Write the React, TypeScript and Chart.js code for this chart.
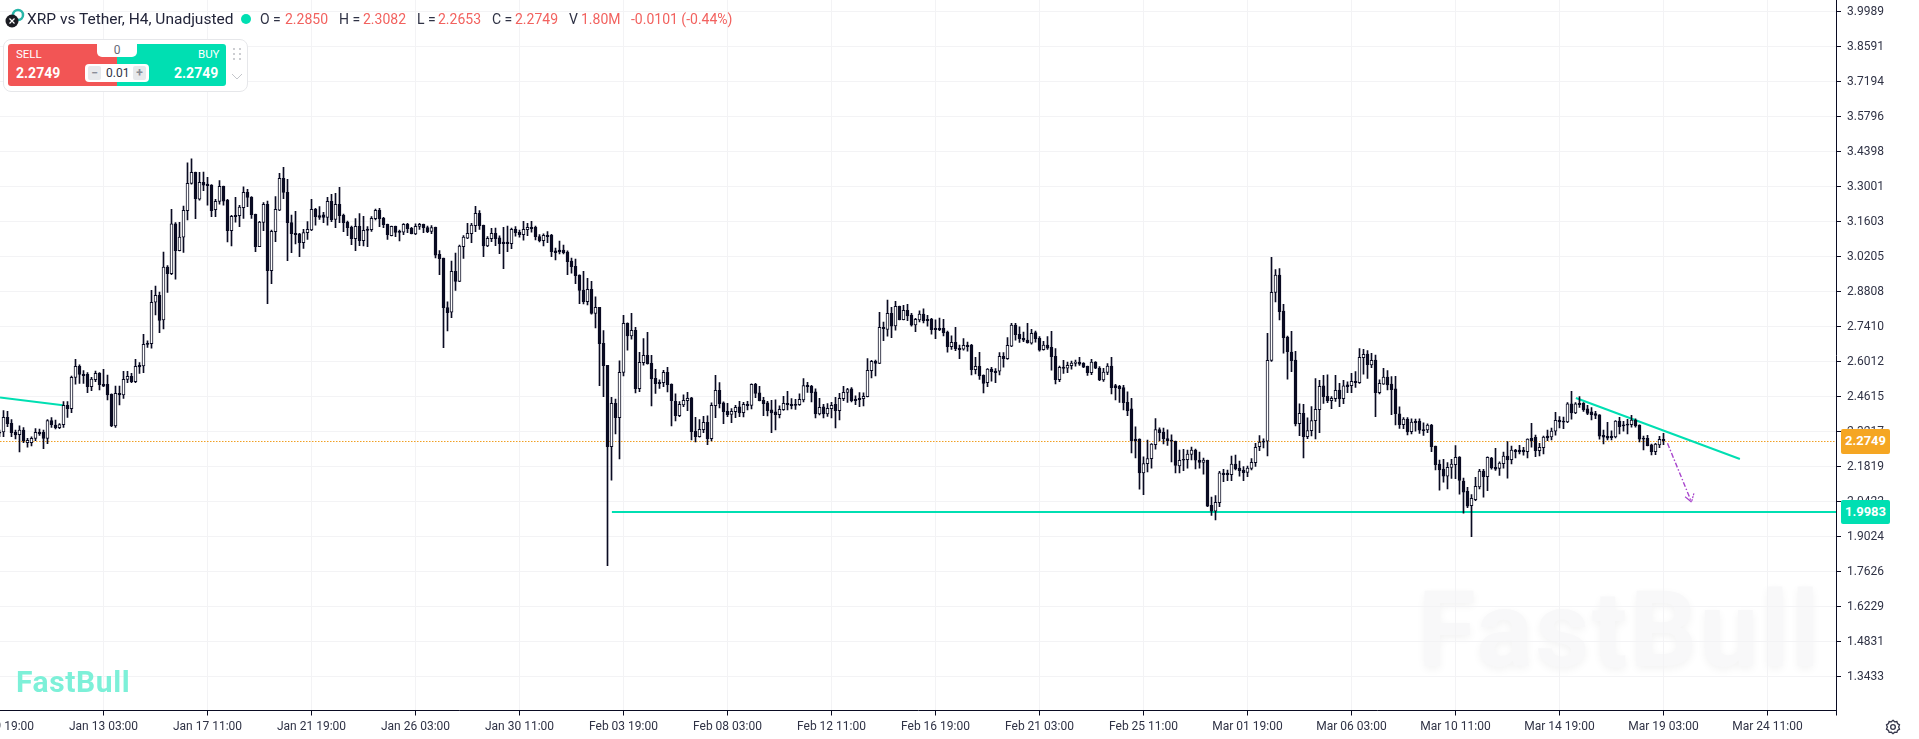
import React, { useEffect, useRef } from 'react';
import { Chart, registerables } from 'chart.js';
Chart.register(...registerables);

// XRP/USDT H4 candles
const opens = [
  2.319,2.319,2.377,2.354,2.318,2.308,2.327,2.276,2.276,2.293,
  2.318,2.318,2.293,2.365,2.347,2.336,2.348,2.425,2.412,2.537,
  2.581,2.549,2.549,2.500,2.528,2.553,2.509,2.509,2.469,2.343,
  2.473,2.467,2.529,2.541,2.520,2.585,2.583,2.673,2.672,2.837,
  2.865,2.766,2.977,2.951,3.150,3.043,3.097,3.203,3.312,3.356,
  3.249,3.316,3.309,3.305,3.207,3.240,3.300,3.245,3.123,3.184,
  3.183,3.215,3.276,3.256,3.188,3.059,3.156,3.228,2.963,3.119,
  3.205,3.332,3.276,3.155,3.112,3.110,3.075,3.115,3.126,3.208,
  3.183,3.186,3.176,3.240,3.168,3.228,3.184,3.156,3.136,3.091,
  3.140,3.083,3.129,3.127,3.171,3.204,3.172,3.148,3.103,3.140,
  3.120,3.117,3.148,3.132,3.110,3.140,3.148,3.135,3.120,3.136,
  3.028,3.013,2.816,2.797,2.961,2.920,3.059,3.093,3.111,3.143,
  3.192,3.144,3.062,3.091,3.112,3.094,3.077,3.077,3.071,3.128,
  3.116,3.107,3.127,3.136,3.136,3.099,3.083,3.104,3.105,3.042,
  3.045,3.045,3.037,3.001,2.980,2.946,2.886,2.839,2.889,2.792,
  2.817,2.673,2.585,2.260,2.433,2.376,2.557,2.753,2.703,2.725,
  2.492,2.596,2.625,2.593,2.533,2.517,2.516,2.557,2.509,2.441,
  2.384,2.427,2.444,2.455,2.322,2.300,2.328,2.358,2.292,2.424,
  2.485,2.435,2.401,2.389,2.400,2.419,2.396,2.429,2.425,2.509,
  2.475,2.445,2.435,2.407,2.399,2.388,2.408,2.433,2.429,2.429,
  2.428,2.447,2.505,2.501,2.479,2.391,2.419,2.391,2.412,2.429,
  2.404,2.452,2.477,2.491,2.449,2.453,2.452,2.460,2.564,2.601,
  2.593,2.737,2.729,2.793,2.743,2.821,2.767,2.805,2.786,2.747,
  2.766,2.790,2.769,2.770,2.733,2.733,2.733,2.718,2.660,2.677,
  2.653,2.650,2.665,2.666,2.568,2.581,2.545,2.516,2.570,2.562,
  2.562,2.621,2.612,2.662,2.746,2.709,2.693,2.686,2.674,2.716,
  2.693,2.648,2.666,2.657,2.621,2.528,2.578,2.574,2.584,2.593,
  2.598,2.593,2.581,2.556,2.598,2.574,2.527,2.557,2.582,2.504,
  2.501,2.496,2.437,2.411,2.291,2.291,2.156,2.192,2.212,2.268,
  2.329,2.319,2.293,2.287,2.282,2.183,2.210,2.208,2.229,2.247,
  2.206,2.197,2.206,2.026,2.003,2.037,2.155,2.155,2.149,2.191,
  2.175,2.167,2.158,2.173,2.196,2.260,2.283,2.282,2.605,2.876,
  2.946,2.802,2.698,2.638,2.606,2.352,2.393,2.300,2.324,2.364,
  2.408,2.503,2.461,2.444,2.452,2.486,2.452,2.507,2.504,2.521,
  2.516,2.616,2.630,2.587,2.606,2.476,2.510,2.538,2.510,2.491,
  2.391,2.348,2.371,2.320,2.362,2.363,2.329,2.327,2.347,2.263,
  2.191,2.171,2.143,2.177,2.188,2.219,2.123,2.082,2.025,2.049,
  2.100,2.163,2.141,2.215,2.178,2.173,2.192,2.223,2.208,2.247,
  2.247,2.247,2.240,2.294,2.298,2.244,2.256,2.303,2.299,2.322,
  2.367,2.363,2.359,2.431,2.395,2.433,2.433,2.411,2.399,2.392,
  2.387,2.306,2.302,2.302,2.299,2.363,2.348,2.351,2.348,2.367,
  2.347,2.295,2.294,2.268,2.240,2.267,2.290,
];
const highs = [
  2.327,2.404,2.401,2.369,2.327,2.344,2.337,2.294,2.300,2.333,
  2.331,2.327,2.369,2.376,2.367,2.353,2.440,2.440,2.542,2.609,
  2.587,2.564,2.556,2.537,2.562,2.556,2.569,2.546,2.471,2.502,
  2.502,2.561,2.561,2.553,2.609,2.596,2.709,2.683,2.885,2.902,
  2.878,3.037,2.983,3.208,3.155,3.156,3.221,3.394,3.410,3.357,
  3.356,3.357,3.336,3.307,3.248,3.323,3.301,3.248,3.184,3.256,
  3.224,3.298,3.288,3.259,3.189,3.160,3.235,3.241,3.125,3.259,
  3.352,3.376,3.328,3.185,3.200,3.112,3.128,3.159,3.248,3.212,
  3.219,3.196,3.256,3.268,3.272,3.296,3.189,3.161,3.141,3.171,
  3.191,3.180,3.139,3.179,3.209,3.212,3.176,3.149,3.141,3.141,
  3.125,3.151,3.152,3.136,3.150,3.152,3.149,3.141,3.143,3.137,
  3.043,3.013,2.839,3.001,3.033,3.065,3.103,3.152,3.152,3.220,
  3.203,3.145,3.099,3.132,3.133,3.102,3.136,3.141,3.133,3.139,
  3.125,3.160,3.152,3.160,3.141,3.107,3.110,3.119,3.108,3.053,
  3.081,3.065,3.042,3.013,3.009,2.947,2.961,2.933,2.921,2.859,
  2.817,2.724,2.585,2.457,2.450,2.603,2.785,2.755,2.793,2.737,
  2.637,2.692,2.717,2.625,2.569,2.527,2.565,2.577,2.511,2.471,
  2.440,2.467,2.477,2.457,2.377,2.369,2.381,2.383,2.435,2.545,
  2.516,2.439,2.433,2.412,2.425,2.441,2.437,2.441,2.511,2.513,
  2.501,2.457,2.441,2.445,2.447,2.423,2.461,2.481,2.452,2.449,
  2.471,2.532,2.517,2.505,2.491,2.453,2.429,2.432,2.437,2.457,
  2.473,2.501,2.493,2.496,2.463,2.476,2.475,2.612,2.605,2.606,
  2.797,2.758,2.846,2.817,2.841,2.822,2.825,2.829,2.793,2.773,
  2.803,2.811,2.785,2.773,2.767,2.774,2.769,2.722,2.703,2.737,
  2.666,2.692,2.678,2.669,2.617,2.637,2.547,2.572,2.577,2.572,
  2.636,2.636,2.696,2.753,2.753,2.739,2.718,2.753,2.729,2.722,
  2.700,2.681,2.700,2.721,2.652,2.582,2.605,2.598,2.602,2.606,
  2.617,2.596,2.582,2.609,2.600,2.580,2.573,2.592,2.617,2.509,
  2.505,2.505,2.479,2.453,2.340,2.292,2.220,2.287,2.273,2.373,
  2.336,2.335,2.328,2.308,2.283,2.247,2.250,2.247,2.259,2.251,
  2.239,2.215,2.207,2.059,2.065,2.162,2.170,2.167,2.223,2.227,
  2.203,2.181,2.183,2.213,2.274,2.305,2.292,2.713,3.016,2.968,
  2.972,2.829,2.702,2.721,2.641,2.431,2.429,2.375,2.420,2.532,
  2.525,2.545,2.547,2.460,2.545,2.513,2.525,2.519,2.553,2.560,
  2.652,2.649,2.644,2.633,2.626,2.527,2.573,2.564,2.540,2.541,
  2.419,2.376,2.376,2.372,2.371,2.372,2.356,2.352,2.350,2.263,
  2.207,2.210,2.197,2.210,2.265,2.221,2.135,2.098,2.069,2.138,
  2.170,2.170,2.220,2.218,2.254,2.200,2.239,2.281,2.263,2.250,
  2.266,2.258,2.292,2.354,2.307,2.274,2.303,2.327,2.335,2.397,
  2.380,2.378,2.436,2.481,2.436,2.460,2.436,2.425,2.416,2.401,
  2.388,2.327,2.358,2.324,2.365,2.377,2.362,2.370,2.385,2.372,
  2.348,2.303,2.306,2.271,2.274,2.302,2.314,
];
const lows = [
  2.300,2.300,2.340,2.300,2.291,2.239,2.276,2.258,2.263,2.284,
  2.305,2.252,2.272,2.337,2.331,2.332,2.337,2.377,2.396,2.510,
  2.513,2.513,2.476,2.484,2.520,2.487,2.500,2.447,2.340,2.337,
  2.427,2.453,2.516,2.516,2.516,2.553,2.556,2.657,2.654,2.786,
  2.716,2.731,2.876,2.947,2.929,3.042,3.036,3.166,3.309,3.171,
  3.245,3.283,3.225,3.179,3.179,3.229,3.225,3.078,3.062,3.157,
  3.139,3.172,3.219,3.172,3.039,3.059,3.123,2.831,2.911,3.079,
  3.203,3.251,3.003,3.035,3.070,3.019,3.052,3.088,3.123,3.145,
  3.168,3.155,3.145,3.159,3.135,3.155,3.119,3.103,3.067,3.043,
  3.063,3.062,3.059,3.120,3.166,3.139,3.135,3.088,3.102,3.099,
  3.082,3.107,3.115,3.110,3.107,3.128,3.115,3.115,3.111,3.014,
  2.947,2.656,2.723,2.775,2.884,2.919,3.012,3.091,3.075,3.119,
  3.128,3.019,3.059,3.079,3.063,3.031,2.971,3.039,3.051,3.101,
  3.097,3.085,3.103,3.117,3.086,3.078,3.062,3.075,3.019,3.006,
  3.030,3.030,2.947,2.953,2.911,2.831,2.830,2.826,2.789,2.735,
  2.504,2.460,1.785,2.127,2.311,2.211,2.543,2.646,2.690,2.475,
  2.480,2.586,2.590,2.423,2.473,2.493,2.500,2.479,2.343,2.363,
  2.380,2.420,2.404,2.287,2.279,2.298,2.316,2.268,2.283,2.376,
  2.415,2.352,2.380,2.356,2.376,2.380,2.379,2.407,2.411,2.456,
  2.443,2.384,2.383,2.316,2.327,2.375,2.405,2.407,2.411,2.409,
  2.425,2.439,2.477,2.439,2.375,2.387,2.375,2.381,2.375,2.335,
  2.367,2.444,2.437,2.439,2.428,2.420,2.423,2.459,2.535,2.543,
  2.592,2.684,2.702,2.696,2.726,2.766,2.766,2.763,2.742,2.720,
  2.758,2.755,2.742,2.710,2.692,2.724,2.703,2.638,2.649,2.644,
  2.612,2.646,2.642,2.547,2.551,2.529,2.475,2.500,2.522,2.516,
  2.547,2.578,2.609,2.660,2.686,2.677,2.680,2.674,2.670,2.678,
  2.642,2.646,2.649,2.566,2.511,2.520,2.553,2.556,2.570,2.582,
  2.585,2.576,2.545,2.548,2.572,2.524,2.521,2.548,2.471,2.447,
  2.437,2.407,2.384,2.235,2.215,2.091,2.069,2.159,2.174,2.250,
  2.283,2.271,2.265,2.199,2.156,2.156,2.164,2.174,2.207,2.171,
  2.174,2.151,2.021,1.986,1.968,2.021,2.121,2.125,2.125,2.167,
  2.143,2.125,2.141,2.167,2.181,2.244,2.255,2.223,2.601,2.838,
  2.766,2.634,2.530,2.560,2.343,2.304,2.215,2.292,2.303,2.291,
  2.316,2.433,2.436,2.412,2.441,2.420,2.432,2.476,2.476,2.497,
  2.513,2.550,2.533,2.576,2.380,2.471,2.509,2.487,2.388,2.347,
  2.333,2.332,2.307,2.311,2.322,2.313,2.305,2.316,2.240,2.167,
  2.087,2.119,2.092,2.134,2.133,2.071,1.995,2.017,1.901,2.045,
  2.092,2.059,2.085,2.170,2.165,2.146,2.174,2.135,2.191,2.215,
  2.231,2.226,2.215,2.258,2.220,2.223,2.231,2.284,2.287,2.306,
  2.335,2.332,2.356,2.370,2.392,2.417,2.401,2.388,2.367,2.372,
  2.290,2.271,2.287,2.287,2.295,2.311,2.322,2.311,2.338,2.338,
  2.279,2.247,2.263,2.227,2.228,2.256,2.268,
];
const closes = [
  2.314,2.377,2.352,2.316,2.307,2.327,2.283,2.286,2.294,2.318,
  2.311,2.293,2.365,2.348,2.336,2.349,2.425,2.412,2.537,2.581,
  2.549,2.544,2.500,2.530,2.553,2.508,2.502,2.467,2.343,2.473,
  2.467,2.529,2.541,2.520,2.581,2.579,2.669,2.669,2.837,2.865,
  2.764,2.977,2.951,3.150,3.043,3.097,3.204,3.312,3.356,3.251,
  3.316,3.305,3.303,3.203,3.240,3.300,3.241,3.123,3.180,3.179,
  3.217,3.276,3.256,3.187,3.059,3.157,3.228,2.963,3.120,3.208,
  3.332,3.276,3.155,3.111,3.107,3.075,3.115,3.128,3.208,3.179,
  3.176,3.176,3.240,3.167,3.228,3.183,3.155,3.135,3.091,3.140,
  3.083,3.124,3.124,3.172,3.204,3.171,3.147,3.107,3.140,3.116,
  3.116,3.148,3.131,3.111,3.140,3.148,3.135,3.119,3.135,3.025,
  3.011,2.815,2.795,2.961,2.920,3.061,3.097,3.112,3.145,3.192,
  3.143,3.062,3.092,3.112,3.091,3.071,3.071,3.071,3.128,3.115,
  3.107,3.128,3.136,3.131,3.099,3.083,3.104,3.099,3.039,3.035,
  3.038,3.035,2.999,2.979,2.943,2.884,2.839,2.889,2.792,2.817,
  2.672,2.584,2.260,2.433,2.376,2.557,2.753,2.703,2.725,2.492,
  2.597,2.625,2.592,2.531,2.512,2.512,2.557,2.508,2.444,2.384,
  2.429,2.445,2.453,2.320,2.300,2.330,2.358,2.292,2.425,2.485,
  2.432,2.400,2.388,2.401,2.417,2.395,2.429,2.424,2.509,2.473,
  2.444,2.432,2.404,2.395,2.388,2.409,2.433,2.428,2.424,2.425,
  2.449,2.504,2.500,2.476,2.391,2.417,2.391,2.413,2.425,2.404,
  2.453,2.477,2.488,2.444,2.444,2.448,2.461,2.565,2.601,2.593,
  2.737,2.732,2.793,2.742,2.821,2.767,2.805,2.782,2.746,2.769,
  2.790,2.763,2.763,2.728,2.728,2.728,2.716,2.660,2.677,2.652,
  2.648,2.665,2.660,2.568,2.581,2.543,2.513,2.570,2.560,2.556,
  2.621,2.612,2.665,2.746,2.708,2.692,2.686,2.676,2.713,2.692,
  2.646,2.666,2.654,2.620,2.528,2.577,2.573,2.585,2.594,2.598,
  2.590,2.578,2.556,2.598,2.574,2.527,2.558,2.582,2.496,2.496,
  2.492,2.436,2.404,2.283,2.283,2.156,2.193,2.213,2.271,2.329,
  2.316,2.292,2.284,2.282,2.185,2.206,2.206,2.231,2.247,2.206,
  2.197,2.207,2.023,2.003,2.038,2.156,2.149,2.149,2.191,2.171,
  2.164,2.157,2.175,2.198,2.258,2.279,2.278,2.605,2.877,2.946,
  2.799,2.696,2.640,2.604,2.351,2.393,2.300,2.325,2.365,2.409,
  2.501,2.460,2.444,2.453,2.485,2.452,2.503,2.500,2.521,2.516,
  2.617,2.629,2.588,2.605,2.476,2.513,2.538,2.507,2.488,2.392,
  2.348,2.371,2.319,2.359,2.356,2.326,2.324,2.347,2.260,2.188,
  2.167,2.143,2.178,2.191,2.218,2.126,2.079,2.023,2.054,2.102,
  2.163,2.141,2.218,2.175,2.170,2.195,2.223,2.207,2.247,2.240,
  2.239,2.239,2.291,2.284,2.244,2.258,2.299,2.295,2.323,2.366,
  2.359,2.358,2.431,2.395,2.431,2.428,2.407,2.393,2.388,2.385,
  2.302,2.298,2.294,2.296,2.363,2.340,2.343,2.346,2.367,2.343,
  2.290,2.290,2.264,2.240,2.271,2.290,2.283,
];

// one label every 26 bars, the first is bar 0
const timeLabels = [
  'Jan 09 19:00', 'Jan 13 03:00', 'Jan 17 11:00', 'Jan 21 19:00', 'Jan 26 03:00', 'Jan 30 11:00',
  'Feb 03 19:00', 'Feb 08 03:00', 'Feb 12 11:00', 'Feb 16 19:00', 'Feb 21 03:00', 'Feb 25 11:00',
  'Mar 01 19:00', 'Mar 06 03:00', 'Mar 10 11:00', 'Mar 14 19:00', 'Mar 19 03:00', 'Mar 24 11:00',
];
const priceTicks = [
  3.9989, 3.8591, 3.7194, 3.5796, 3.4398, 3.3001, 3.1603, 3.0205, 2.8808, 2.741,
  2.6012, 2.4615, 2.3217, 2.1819, 2.0422, 1.9024, 1.7626, 1.6229, 1.4831, 1.3433,
];

// drawn lines, [bar, price]
const leftTrend = [[0.125, 2.457], [15.875, 2.4255]];
const supportLevel = 1.9994;
const supportFrom = 153.1;
const downTrend = [[394.1, 2.4546], [435.1, 2.211]];
const forecast = [[417.0, 2.2737], [423.0, 2.0393]];
const forecastHeadLeft = [[421.4, 2.0605], [423.0, 2.0393]];
const forecastHeadRight = [[423.6, 2.0741], [423.0, 2.0393]];
const lastPriceLevel = 2.28096;

const X_MIN = 0.125;
const X_MAX = 459.125;
const Y_MIN = 1.20677;
const Y_MAX = 4.04403;

const INK = '#0a0b22';
const TEAL = '#00dfb2';
const RED = '#f25555';
const PURPLE = '#a845cc';
const AXIS_FONT = 'Roboto';

const toPoints = (pts: number[][]) => pts.map(([x, y]) => ({ x, y }));

const lineSet = (data: { x: number; y: number }[], color: string, width: number, dash: number[] = []) => ({
  type: 'line' as const,
  data,
  borderColor: color,
  borderWidth: width,
  borderDash: dash,
  pointRadius: 0,
  tension: 0,
  order: 5,
});

const CandleChart: React.FC = () => {
  const canvasRef = useRef<HTMLCanvasElement>(null);
  const chartRef = useRef<Chart | null>(null);

  useEffect(() => {
    if (!canvasRef.current) return;
    const ctx = canvasRef.current.getContext('2d');
    if (!ctx) return;
    chartRef.current = new Chart(ctx, {
      type: 'bar',
      data: {
        datasets: [
          {
            data: opens.map((_, i) => ({ x: i, y: [lows[i], highs[i]] })),
            backgroundColor: INK,
            barThickness: 1,
            grouped: false,
            order: 2,
          },
          {
            data: opens.map((o, i) => ({ x: i, y: [o, closes[i]] })),
            backgroundColor: opens.map((o, i) => (closes[i] > o ? '#ffffff' : INK)),
            borderColor: INK,
            borderWidth: 1,
            borderSkipped: false,
            barThickness: 3,
            grouped: false,
            order: 1,
          },
          lineSet(toPoints(leftTrend), TEAL, 2),
          lineSet(toPoints(downTrend), TEAL, 2),
          lineSet(toPoints([[supportFrom, supportLevel], [X_MAX, supportLevel]]), TEAL, 2),
          lineSet(toPoints([[X_MIN, lastPriceLevel], [X_MAX, lastPriceLevel]]), '#f0a024', 1, [1.5, 1.5]),
          lineSet(toPoints(forecast), PURPLE, 1.4, [5, 2, 1.5, 2]),
          lineSet(toPoints(forecastHeadLeft), PURPLE, 1.2),
          lineSet(toPoints(forecastHeadRight), PURPLE, 1.2, [2, 1]),
        ] as any,
      },
      options: {
        responsive: false,
        animation: false,
        devicePixelRatio: 1,
        events: [],
        layout: { padding: 0 },
        plugins: { legend: { display: false }, tooltip: { enabled: false } },
        scales: {
          x: {
            type: 'linear',
            position: 'bottom',
            min: X_MIN,
            max: X_MAX,
            offset: false,
            afterBuildTicks: (scale: any) => {
              scale.ticks = [...timeLabels.map((_, i) => ({ value: i * 26 })), { value: X_MAX }];
            },
            afterFit: (scale: any) => {
              scale.height = 28.5;
              scale.paddingLeft = 0;
              scale.paddingRight = 0;
            },
            ticks: {
              autoSkip: false,
              maxRotation: 0,
              padding: 4,
              color: '#2f3245',
              font: { family: AXIS_FONT, size: 12 },
              callback: (v: any) => timeLabels[v / 26] ?? '',
            },
            grid: { color: '#f3f3f5', offset: false, tickColor: INK, tickLength: 5 },
            border: { color: INK, width: 1 },
          },
          y: {
            type: 'linear',
            position: 'right',
            min: Y_MIN,
            max: Y_MAX,
            afterBuildTicks: (scale: any) => {
              scale.ticks = priceTicks.map((value) => ({ value }));
            },
            afterFit: (scale: any) => {
              scale.width = 83;
              scale.paddingTop = 0;
              scale.paddingBottom = 0;
            },
            ticks: {
              autoSkip: false,
              padding: 6,
              labelOffset: 1,
              color: '#2f3245',
              font: { family: AXIS_FONT, size: 12 },
              callback: (v: any) => Number(v).toFixed(4),
            },
            grid: { color: '#f3f3f5', tickColor: INK, tickLength: 5 },
            border: { color: INK, width: 1 },
          },
        },
      } as any,
    });
    return () => {
      chartRef.current?.destroy();
    };
  }, []);

  return <canvas ref={canvasRef} width={1919} height={739} style={{ position: 'absolute', left: 0, top: 0, display: 'block' }} />;
};

const abs = (left: number, top: number, extra: React.CSSProperties = {}): React.CSSProperties => ({
  position: 'absolute',
  left,
  top,
  whiteSpace: 'nowrap',
  ...extra,
});

const headerFont = { fontFamily: 'Roboto', fontSize: 14, lineHeight: '18px', color: '#2f3245' };

const Quote: React.FC<{ x: number; name: string; value: string; valueX: number }> = ({ x, name, value, valueX }) => (
  <>
    <span style={abs(x, 10, headerFont)}>{name}</span>
    <span style={abs(valueX, 10, { ...headerFont, color: '#f2625f' })}>{value}</span>
  </>
);

const App: React.FC = () => (
  <div style={{ position: 'fixed', left: 0, top: 0, width: 1919, height: 739, overflow: 'hidden', background: '#fff' }}>
    {/* big watermark sits under the grid */}
    <div style={abs(1418, 568, { fontFamily: 'Roboto', fontWeight: 700, fontSize: 105, lineHeight: '125px', letterSpacing: 2.6, color: '#f8f8f9', textShadow: '0 3px 8px rgba(0,0,0,0.05)' })}>FastBull</div>
    <CandleChart />

    {/* header */}
    <svg style={abs(4, 8)} width={22} height={22} viewBox="0 0 22 22">
      <circle cx={14} cy={7} r={5} fill="none" stroke="#27b5a8" strokeWidth={2.5} />
      <circle cx={8} cy={13} r={6.5} fill="#1b1c22" />
      <path d="M5.5 10.5l5 5M10.5 10.5l-5 5" stroke="#fff" strokeWidth={1.2} />
    </svg>
    <span style={abs(27, 9, { ...headerFont, fontSize: 15.5, lineHeight: '20px', color: '#23253a' })}>XRP vs Tether, H4, Unadjusted</span>
    <div style={abs(241, 14, { width: 10, height: 10, borderRadius: 5, background: TEAL })} />
    <Quote x={260} name="O =" value="2.2850" valueX={285} />
    <Quote x={339} name="H =" value="2.3082" valueX={363} />
    <Quote x={417} name="L =" value="2.2653" valueX={438} />
    <Quote x={492} name="C =" value="2.2749" valueX={515} />
    <Quote x={569} name="V" value="1.80M" valueX={581} />
    <span style={abs(631, 10, { ...headerFont, color: '#f2625f' })}>-0.0101 (-0.44%)</span>

    {/* trade widget */}
    <div style={abs(3, 39, { width: 243, height: 51, border: '1px solid #e6e7ea', borderRadius: 8, background: '#fff', boxSizing: 'content-box' })} />
    <div style={abs(8, 44, { width: 109, height: 42, background: RED, borderRadius: '3px 0 0 3px' })} />
    <div style={abs(117, 44, { width: 109, height: 42, background: TEAL, borderRadius: '0 3px 3px 0' })} />
    <div style={abs(97, 44, { width: 40, height: 13, background: '#fff', borderRadius: '0 0 5px 5px', textAlign: 'center', fontFamily: 'Roboto', fontSize: 12, lineHeight: '13px', color: '#666a78' })}>0</div>
    <span style={abs(16, 47, { fontFamily: 'Roboto', fontSize: 11.5, lineHeight: '14px', color: '#fff' })}>SELL</span>
    <span style={abs(198, 47, { fontFamily: 'Roboto', fontSize: 11.5, lineHeight: '14px', color: '#fff' })}>BUY</span>
    <span style={abs(16, 63, { fontFamily: 'Roboto', fontWeight: 700, fontSize: 14, lineHeight: '20px', color: '#fff' })}>2.2749</span>
    <span style={abs(174, 63, { fontFamily: 'Roboto', fontWeight: 700, fontSize: 14, lineHeight: '20px', color: '#fff' })}>2.2749</span>
    <div style={abs(85, 64, { width: 64, height: 18, background: '#fff', borderRadius: 4 })} />
    <div style={abs(88, 66, { width: 13, height: 14, background: '#e7e9ec', borderRadius: 2, textAlign: 'center', fontFamily: 'Roboto', fontWeight: 700, fontSize: 12, lineHeight: '14px', color: '#8a8d98' })}>−</div>
    <div style={abs(133, 66, { width: 13, height: 14, background: '#e7e9ec', borderRadius: 2, textAlign: 'center', fontFamily: 'Roboto', fontWeight: 700, fontSize: 12, lineHeight: '14px', color: '#8a8d98' })}>+</div>
    <span style={abs(106, 66, { fontFamily: 'Roboto', fontSize: 12, lineHeight: '14px', color: '#2f3245' })}>0.01</span>
    <svg style={abs(231, 46)} width={12} height={40} viewBox="0 0 12 40">
      {[3, 9].map((x) => [3, 8, 13].map((y) => <circle key={`${x}-${y}`} cx={x} cy={y} r={0.9} fill="#b5b7bd" />))}
      <path d="M1 28l5 5 5-5" fill="none" stroke="#c4c6cb" strokeWidth={1} />
    </svg>

    {/* price tags on the axis */}
    <div style={abs(1841, 429, { width: 49, height: 25, background: '#f5a623', borderRadius: 2, textAlign: 'center', fontFamily: 'Roboto', fontWeight: 700, fontSize: 13, lineHeight: '24px', color: '#fff' })}>2.2749</div>
    <div style={abs(1841, 500, { width: 49, height: 24, background: TEAL, borderRadius: 2, textAlign: 'center', fontFamily: 'Roboto', fontWeight: 700, fontSize: 13, lineHeight: '24px', color: '#fff' })}>1.9983</div>

    {/* small logo + settings */}
    <div style={abs(16, 664, { fontFamily: 'Roboto', fontWeight: 700, fontSize: 30, lineHeight: '36px', letterSpacing: 0.6, color: '#7df0d8' })}>FastBull</div>
    <svg style={abs(1885, 719)} width={16} height={16} viewBox="0 0 24 24" fill="none" stroke="#34364a" strokeWidth={2}>
      <path d="M12 2l2.5 2.2 3.3-.4 1 3.2 2.9 1.7-1.2 3.3 1.2 3.2-2.9 1.8-1 3.1-3.3-.3L12 22l-2.5-2.2-3.3.3-1-3.1-2.9-1.8 1.2-3.2-1.2-3.3L5.200 7l1-3.200 3.300.4z" />
      <circle cx={12} cy={12} r={3.5} />
    </svg>
  </div>
);

export default App;
